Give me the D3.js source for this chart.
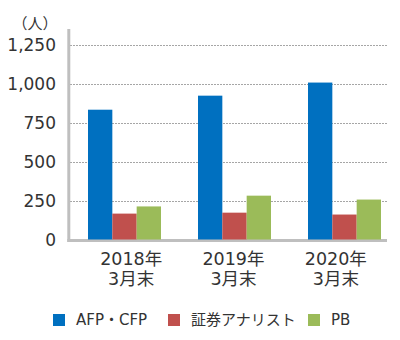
<!DOCTYPE html>
<html><head><meta charset="utf-8">
<script src="https://cdn.jsdelivr.net/npm/d3@7"></script>
<style>
html,body{margin:0;padding:0;background:#fff;}
svg{display:block;font-family:"DejaVu Sans","Noto Sans CJK JP",sans-serif;}
</style></head>
<body>
<svg id="c" width="400" height="340"></svg>
<script>
const categories = ["2018年\n3月末", "2019年\n3月末", "2020年\n3月末"];
const seriesNames = ["AFP・CFP", "証券アナリスト", "PB"];
const afp = [832, 922, 1006];
const analyst = [166, 172, 160];
const pb = [212, 281, 256];
const colors = ["#0070C0", "#C0504D", "#9BBB59"];
const yTicks = [0, 250, 500, 750, 1000, 1250];
const unitLabel = "（人）";

const values = [afp, analyst, pb];
const data = categories.map((c, i) => ({cat: c, vals: seriesNames.map((s, j) => ({s, v: values[j][i]}))}));

const svg = d3.select("#c");
const y = d3.scaleLinear().domain([0, 1250]).range([239.5, 44.5]);
const x0 = d3.scaleBand().domain(categories).range([69.5, 399.5]).paddingInner(37/110).paddingOuter(37/220);
const x1 = d3.scaleBand().domain(seriesNames).range([0, x0.bandwidth()]);
const xl = d3.scaleBand().domain(categories).range([80, 387]);
const color = d3.scaleOrdinal().domain(seriesNames).range(colors);

// gridlines
svg.append("g").selectAll("line").data(yTicks.filter(t => t > 0)).join("line")
  .attr("x1", 70).attr("x2", 387)
  .attr("y1", d => Math.round(y(d)) + 0.5).attr("y2", d => Math.round(y(d)) + 0.5)
  .attr("stroke", "#a6a6a6").attr("stroke-width", 1).attr("stroke-dasharray", "2,1");

// y tick labels
const fmt = d3.format(",");
svg.append("g").selectAll("text").data(yTicks).join("text")
  .attr("x", 56).attr("y", d => y(d)).attr("dy", "0.36em")
  .attr("text-anchor", "end").attr("font-size", 17).attr("fill", "#333")
  .text(d => fmt(d));

svg.append("text").attr("x", 35).attr("y", 29).attr("text-anchor", "middle")
  .attr("font-family", "Noto Sans CJK JP")
  .attr("font-size", 15).attr("fill", "#333").text(unitLabel);

// axes lines
svg.append("line").attr("x1", 68.8).attr("x2", 68.8).attr("y1", 29).attr("y2", 242)
  .attr("stroke", "#bfbfbf").attr("stroke-width", 3);
svg.append("line").attr("x1", 67.3).attr("x2", 387).attr("y1", 240.5).attr("y2", 240.5)
  .attr("stroke", "#bfbfbf").attr("stroke-width", 3);

// bars
svg.append("g").selectAll("g").data(data).join("g")
  .attr("transform", d => `translate(${x0(d.cat)},0)`)
  .selectAll("rect").data(d => d.vals).join("rect")
  .attr("x", d => x1(d.s)).attr("width", x1.bandwidth())
  .attr("y", d => y(d.v)).attr("height", d => y(0) - y(d.v))
  .attr("fill", d => color(d.s));

// x labels (one text per line)
const lineData = [];
categories.forEach(c => c.split("\n").forEach((l, i) => lineData.push({c, l, i})));
svg.append("g").selectAll("text").data(lineData).join("text")
  .attr("text-anchor", "middle").attr("font-size", 17.5).attr("fill", "#333")
  .attr("x", d => xl(d.c) + xl.bandwidth() / 2)
  .attr("y", d => 264.5 + d.i * 20.5)
  .text(d => d.l);

// legend
const legX = [53, 168, 308];
const lg = svg.append("g").selectAll("g").data(seriesNames).join("g")
  .attr("transform", (d, i) => `translate(${legX[i]},314)`);
lg.append("rect").attr("width", 12).attr("height", 12).attr("fill", d => color(d));
lg.append("text").attr("x", 23).attr("y", 6).attr("dy", "0.36em")
  .attr("font-size", 15).attr("fill", "#333").text(d => d);
</script>
</body></html>
